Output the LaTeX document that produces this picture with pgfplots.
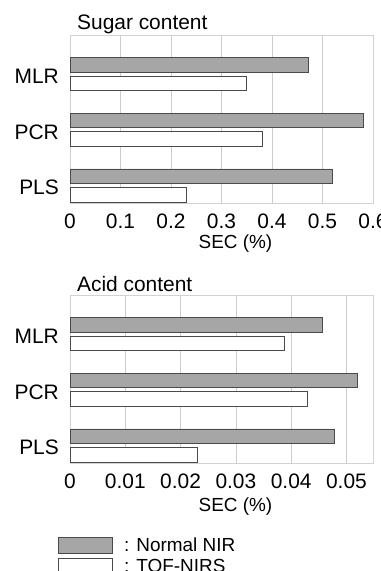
\documentclass[border=0pt]{standalone}
\usepackage{pgfplots}
\pgfplotsset{compat=1.18}
\usepackage{fontspec}
\setmainfont{Liberation Sans}
\definecolor{barfill}{HTML}{A6A6A6}
\definecolor{baredge}{HTML}{4A4A4A}
\begin{document}
\begin{tikzpicture}
\useasboundingbox (0bp,0bp) rectangle (381bp,-571bp);
\pgfplotsset{
 every axis title shift=0pt,
 myax/.style={
  scale only axis, width=303bp, height=168bp, anchor=south west,
  xbar, bar shift=0pt, bar width=0.263,
  ymin=-0.31, ymax=2.70,
  ytick={0,1,2}, yticklabels={PLS,PCR,MLR},
  xmin=0, scaled x ticks=false,
  axis line style={draw=gray!35, line width=0.6bp},
  xmajorgrids, grid style={gray!40, line width=0.6bp},
  major tick length=0pt,
  tick label style={font=\fontsize{21}{21}\selectfont},
  xticklabel style={anchor=base, yshift=-25bp, inner sep=0pt},
  yticklabel style={anchor=east, inner sep=0pt, xshift=-11bp, yshift=-2bp},
  xlabel={SEC (\%)},
  xlabel style={font=\fontsize{19}{19}\selectfont, at={(axis description cs:0.546,0)}, anchor=base, inner sep=0pt},
  title style={font=\fontsize{21}{21}\selectfont, at={(axis description cs:0.023,1)}, anchor=base west, inner sep=0pt},
  normal/.style={fill=barfill, draw=baredge, line width=0.9bp},
  tof/.style={fill=white, draw=baredge, line width=0.9bp},
 }
}
% Sugar content
\begin{axis}[myax, at={(70bp,-203bp)}, xmax=0.6,
  xtick={0,0.1,0.2,0.3,0.4,0.5,0.6},
  xticklabels={0,0.1,0.2,0.3,0.4,0.5,0.6},
  xlabel style={yshift=-45bp},
  title={Sugar content}, title style={yshift=5.5bp}]
\addplot[normal] coordinates {(0.472,2.168) (0.582,1.168) (0.520,0.168)};
\addplot[tof] coordinates {(0.350,1.832) (0.381,0.832) (0.231,-0.168)};
\end{axis}
% Acid content
\begin{axis}[myax, at={(70bp,-463bp)}, xmax=0.0548,
  xtick={0,0.01,0.02,0.03,0.04,0.05},
  xticklabels={0,0.01,0.02,0.03,0.04,0.05},
  xlabel style={yshift=-48bp},
  title={Acid content}, title style={yshift=3.5bp},
  legend style={at={(axis description cs:-0.0396,-0.44)}, anchor=north west,
    draw=none, fill=none, inner sep=0pt, row sep=4bp,
    font=\fontsize{19}{19}\selectfont, cells={anchor=west},
    nodes={inner sep=0pt},
    /tikz/every odd column/.append style={column sep=11bp}},
  legend image code/.code={\draw[#1] (0bp,-8bp) rectangle (54bp,8bp);},
  legend cell align=left]
\addplot[normal] coordinates {(0.0457,2.168) (0.0519,1.168) (0.0479,0.168)};
\addlegendentry{: Normal NIR}
\addplot[tof] coordinates {(0.0388,1.832) (0.0430,0.832) (0.0230,-0.168)};
\addlegendentry{: TOF-NIRS}
\end{axis}
\end{tikzpicture}
\end{document}
